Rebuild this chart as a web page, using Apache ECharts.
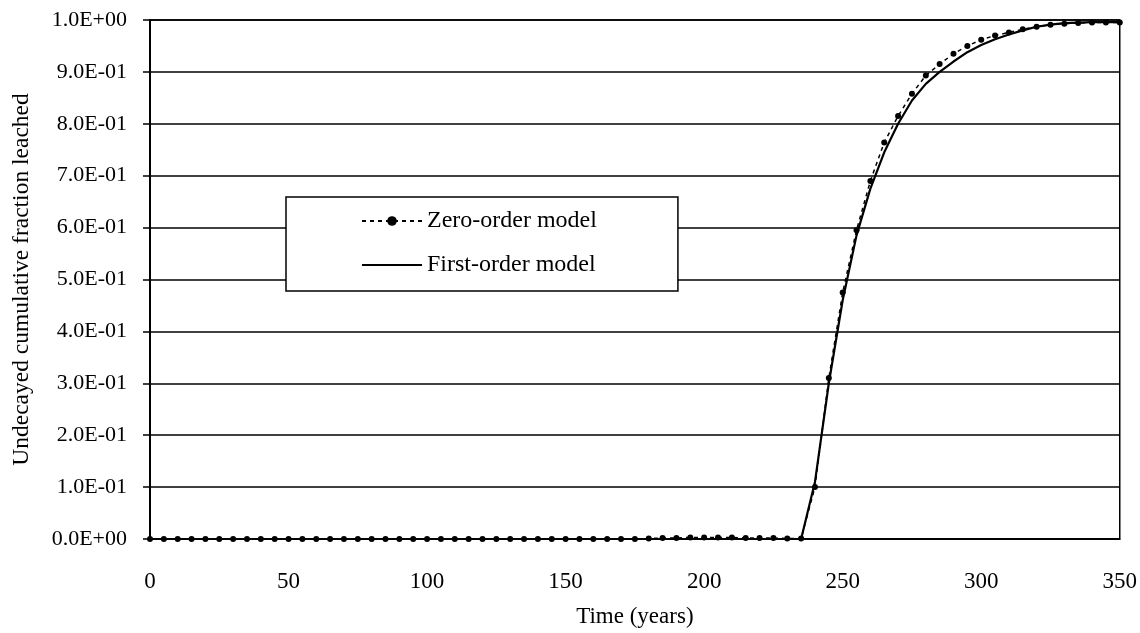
<!DOCTYPE html>
<html>
<head>
<meta charset="utf-8">
<script src="https://cdn.jsdelivr.net/npm/echarts@6/dist/echarts.min.js"></script>
<style>
  html, body { margin: 0; padding: 0; background: #fff; }
  #chart { width: 1140px; height: 633px; }
</style>
</head>
<body>
<div id="chart"></div>
<script>
// Time in years, sampled every 5 years
const years = [
  0, 5, 10, 15, 20, 25, 30, 35, 40, 45, 50, 55, 60, 65, 70, 75, 80, 85, 90, 95,
  100, 105, 110, 115, 120, 125, 130, 135, 140, 145, 150, 155, 160, 165, 170, 175,
  180, 185, 190, 195, 200, 205, 210, 215, 220, 225, 230, 235, 240, 245, 250, 255,
  260, 265, 270, 275, 280, 285, 290, 295, 300, 305, 310, 315, 320, 325, 330, 335,
  340, 345, 350
];

// Undecayed cumulative fraction leached, zero-order model
const zeroOrder = [
  0, 0, 0, 0, 0, 0, 0, 0, 0, 0, 0, 0, 0, 0, 0, 0, 0, 0, 0, 0,
  0, 0, 0, 0, 0, 0, 0, 0, 0, 0, 0, 0, 0, 0, 0, 0,
  0.001, 0.002, 0.002, 0.003, 0.003, 0.003, 0.003, 0.002, 0.002, 0.002, 0.001, 0.001,
  0.10, 0.31, 0.475, 0.595,
  0.69, 0.764, 0.815, 0.858, 0.893, 0.915, 0.935, 0.95, 0.962, 0.97, 0.976, 0.982,
  0.987, 0.991, 0.993, 0.994, 0.995, 0.995, 0.995
];

// Undecayed cumulative fraction leached, first-order model (starts at 235 years)
const firstOrderYears = [
  235, 240, 245, 250, 255, 260, 265, 270, 275, 280, 285, 290, 295, 300,
  305, 310, 315, 320, 325, 330, 335, 340, 345, 350
];
const firstOrder = [
  0, 0.11, 0.30, 0.46, 0.585, 0.675, 0.745, 0.80, 0.845, 0.877, 0.90, 0.92, 0.938, 0.952,
  0.963, 0.972, 0.98, 0.987, 0.991, 0.994, 0.995, 0.996, 0.996, 0.996
];

// Y-axis tick labels in scientific notation
const yTickLabels = {
  0: '0.0E+00', 0.1: '1.0E-01', 0.2: '2.0E-01', 0.3: '3.0E-01', 0.4: '4.0E-01',
  0.5: '5.0E-01', 0.6: '6.0E-01', 0.7: '7.0E-01', 0.8: '8.0E-01', 0.9: '9.0E-01',
  1: '1.0E+00'
};

const seriesNames = ['Zero-order model', 'First-order model'];
const FONT = '"Liberation Serif", "Times New Roman", serif';

const zeroPairs = years.map((t, i) => [t, zeroOrder[i]]);
const firstPairs = firstOrderYears.map((t, i) => [t, firstOrder[i]]);

const chart = echarts.init(document.getElementById('chart'), null, { renderer: 'canvas' });

chart.setOption({
  animation: false,
  backgroundColor: '#fff',
  textStyle: { fontFamily: FONT, color: '#000' },
  grid: {
    left: 150, right: 20, top: 20, bottom: 93,
    show: true, borderColor: '#000', borderWidth: 1.5, backgroundColor: 'transparent'
  },
  legend: {
    orient: 'vertical',
    left: 286, top: 197,
    padding: [12, 81, 14, 75],
    backgroundColor: '#fff',
    borderColor: '#000',
    borderWidth: 1.5,
    itemWidth: 60,
    itemHeight: 12,
    itemGap: 20,
    textStyle: { fontFamily: FONT, fontSize: 24, color: '#000', lineHeight: 24 },
    data: [
      { name: seriesNames[0] },
      { name: seriesNames[1], itemStyle: { opacity: 0 } }
    ]
  },
  xAxis: {
    type: 'value',
    min: 0, max: 350, interval: 50,
    name: 'Time (years)',
    nameLocation: 'middle',
    nameGap: 66,
    nameTextStyle: { fontFamily: FONT, fontSize: 23, color: '#000' },
    axisLine: { show: true, lineStyle: { color: '#000', width: 1.5 } },
    axisTick: { show: false },
    axisLabel: { fontFamily: FONT, fontSize: 23, color: '#000', margin: 31 },
    splitLine: { show: false }
  },
  yAxis: {
    type: 'value',
    min: 0, max: 1, interval: 0.1,
    name: 'Undecayed cumulative fraction leached',
    nameLocation: 'middle',
    nameGap: 116,
    nameTextStyle: { fontFamily: FONT, fontSize: 23.5, color: '#000' },
    axisLine: { show: true, lineStyle: { color: '#000', width: 2 } },
    axisTick: { show: true, length: 7, inside: false, lineStyle: { color: '#000', width: 1.5 } },
    axisLabel: {
      fontFamily: FONT, fontSize: 22, color: '#000', margin: 23,
      formatter: v => yTickLabels[Math.round(v * 10) / 10]
    },
    splitLine: { show: true, lineStyle: { color: '#000', width: 1.5 } }
  },
  series: [
    {
      name: seriesNames[0],
      type: 'line',
      data: zeroPairs,
      symbol: 'circle',
      symbolSize: 6,
      itemStyle: { color: '#000' },
      lineStyle: { color: '#000', width: 1.5, type: [4, 4] },
      z: 3
    },
    {
      name: seriesNames[1],
      type: 'line',
      data: firstPairs,
      symbol: 'none',
      itemStyle: { color: '#000' },
      lineStyle: { color: '#000', width: 2.2 },
      z: 2
    }
  ]
});
</script>
</body>
</html>
